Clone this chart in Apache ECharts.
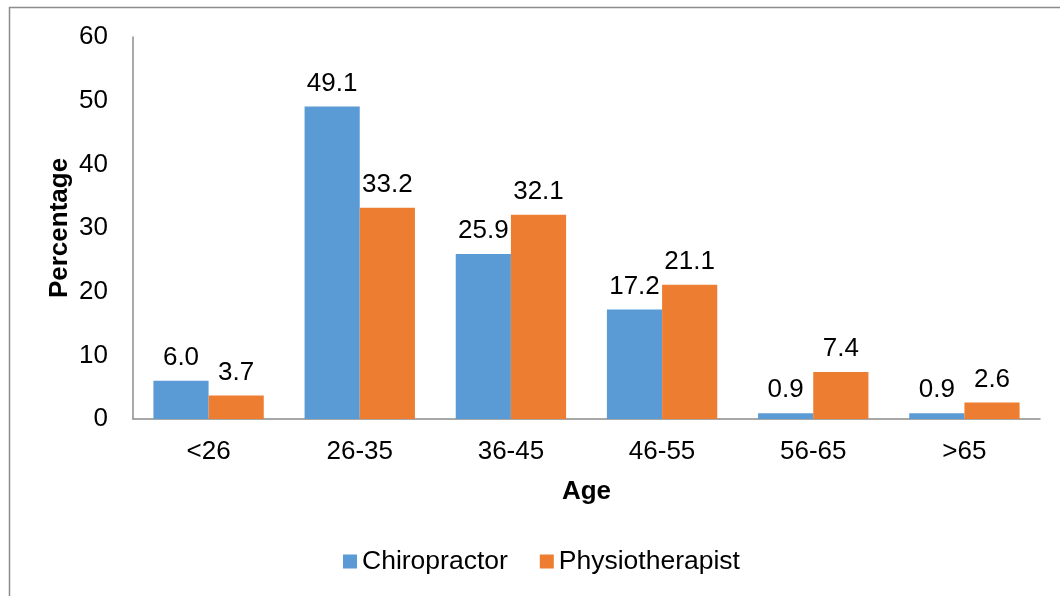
<!DOCTYPE html>
<html>
<head>
<meta charset="utf-8">
<script src="https://cdn.jsdelivr.net/npm/echarts@6/dist/echarts.min.js"></script>
<style>
  html, body { margin: 0; padding: 0; background: #fff; }
  #chart { width: 1060px; height: 596px; }
</style>
</head>
<body>
<div id="chart"></div>
<script>
// 年龄分组
var ageGroups = ['<26', '26-35', '36-45', '46-55', '56-65', '>65'];
// 各组百分比
var chiropractor = [6.0, 49.1, 25.9, 17.2, 0.9, 0.9];
var physiotherapist = [3.7, 33.2, 32.1, 21.1, 7.4, 2.6];
var yTicks = [0, 10, 20, 30, 40, 50, 60];

var chart = echarts.init(document.getElementById('chart'));

var labelStyle = {
    show: true,
    position: 'top',
    distance: 10,
    color: '#000',
    fontFamily: 'Liberation Sans, Arial, sans-serif',
    fontSize: 26,
    formatter: function (p) { return p.value.toFixed(1); }
};

var option = {
    animation: false,
    textStyle: { fontFamily: 'Liberation Sans, Arial, sans-serif' },
    graphic: [{
        type: 'rect',
        left: 7,
        top: 5,
        shape: { width: 1100, height: 700 },
        style: { fill: 'none', stroke: '#8c8c8c', lineWidth: 1.5 },
        silent: true
    }],
    grid: {
        left: 133,
        right: 20,
        top: 37,
        bottom: 177
    },
    legend: {
        bottom: 16,
        left: 338,
        itemWidth: 14,
        itemHeight: 14,
        itemGap: 32,
        icon: 'rect',
        textStyle: { fontSize: 26.5, color: '#000' },
        data: ['Chiropractor', 'Physiotherapist']
    },
    xAxis: {
        type: 'category',
        data: ageGroups,
        name: 'Age',
        nameLocation: 'middle',
        nameGap: 60,
        nameTextStyle: { fontSize: 26, fontWeight: 'bold', color: '#000' },
        axisLine: { lineStyle: { color: '#8c8c8c', width: 1.5 } },
        axisTick: { show: false },
        axisLabel: { fontSize: 26, color: '#000', margin: 20 }
    },
    yAxis: {
        type: 'value',
        min: yTicks[0],
        max: yTicks[yTicks.length - 1],
        interval: 10,
        name: 'Percentage',
        nameLocation: 'middle',
        nameGap: 60,
        nameMoveOverlap: false,
        nameTextStyle: { fontSize: 26, fontWeight: 'bold', color: '#000' },
        axisLine: { show: true, lineStyle: { color: '#8c8c8c', width: 1.5 } },
        axisTick: { show: false },
        splitLine: { show: false },
        axisLabel: { fontSize: 26, color: '#000', margin: 25 }
    },
    series: [
        {
            name: 'Chiropractor',
            type: 'bar',
            data: chiropractor,
            barGap: '0%',
            barCategoryGap: '27%',
            itemStyle: { color: '#5b9bd5' },
            label: labelStyle
        },
        {
            name: 'Physiotherapist',
            type: 'bar',
            data: physiotherapist,
            itemStyle: { color: '#ed7d31' },
            label: labelStyle
        }
    ]
};

chart.setOption(option);
</script>
</body>
</html>
